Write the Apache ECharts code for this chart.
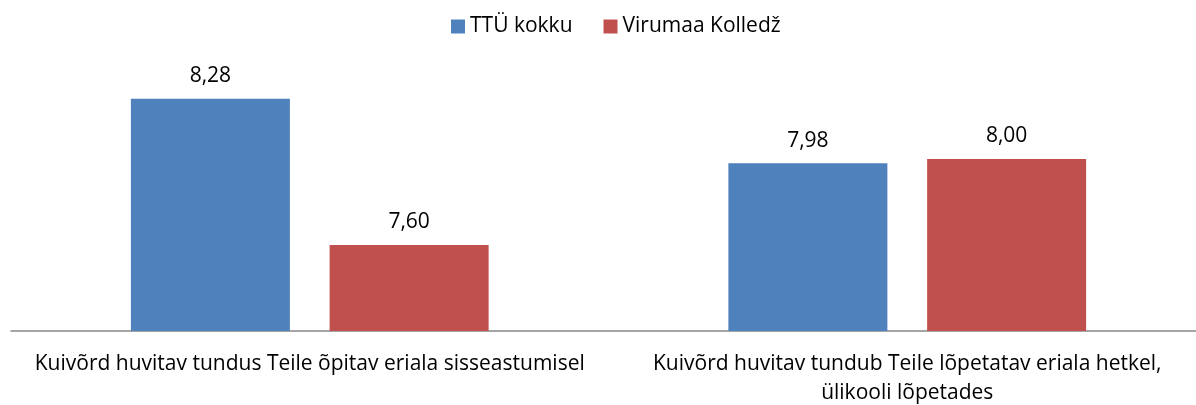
<!DOCTYPE html>
<html>
<head>
<meta charset="utf-8">
<script src="https://cdn.jsdelivr.net/npm/echarts@6/dist/echarts.min.js"></script>
<style>html,body{margin:0;padding:0;background:#fff}#c{width:1196px;height:405px}</style>
</head>
<body>
<div id="c"></div>
<script>
const categories = [
  "Kuivõrd huvitav tundus Teile õpitav eriala sisseastumisel",
  "Kuivõrd huvitav tundub Teile lõpetatav eriala hetkel,\nülikooli lõpetades"
];
const seriesNames = ["TTÜ kokku", "Virumaa Kolledž"];
const ttuValues = [8.28, 7.98];
const virumaaValues = [7.60, 8.00];
const colors = ["#4F81BD", "#C0504D"];

const FONT = "Open Sans";
const fmt = p => p.value.toFixed(2).replace('.', ',');
const chart = echarts.init(document.getElementById('c'), null, {renderer: 'canvas'});
chart.setOption({
  animation: false,
  textStyle: {fontFamily: FONT},
  legend: {
    top: 11, left: 446,
    itemWidth: 14, itemHeight: 14, itemGap: 31,
    icon: 'rect',
    textStyle: {fontSize: 21, color: '#000', fontFamily: FONT}
  },
  grid: {left: 11, width: 1195, top: 73, bottom: 74, outerBoundsMode: 'none', containLabel: false},
  xAxis: {
    type: 'category',
    data: categories,
    axisTick: {show: false},
    axisLine: {lineStyle: {color: '#888', width: 1.5}},
    axisLabel: {fontSize: 21, color: '#000', lineHeight: 29, margin: 19, fontFamily: FONT, interval: 0}
  },
  yAxis: {
    type: 'value', min: 7.2, max: 8.4, interval: 0.2,
    show: false, splitLine: {show: false}
  },
  series: [
    {name: seriesNames[0], type: 'bar', data: ttuValues, barWidth: 159, barGap: '25%',
     itemStyle: {color: colors[0]},
     label: {show: true, position: 'top', distance: 12, formatter: fmt, fontSize: 21, color: '#000', fontFamily: FONT}},
    {name: seriesNames[1], type: 'bar', data: virumaaValues, barWidth: 159,
     itemStyle: {color: colors[1]},
     label: {show: true, position: 'top', distance: 12, formatter: fmt, fontSize: 21, color: '#000', fontFamily: FONT}}
  ]
});
</script>
</body>
</html>
